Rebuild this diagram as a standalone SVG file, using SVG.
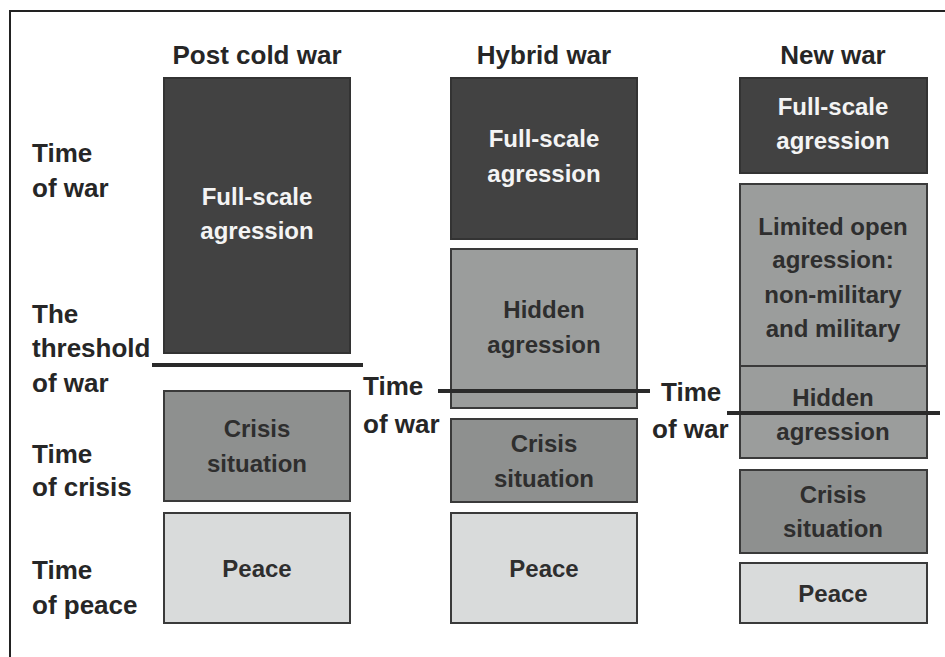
<svg xmlns="http://www.w3.org/2000/svg" width="945" height="657" viewBox="0 0 945 657">
<style>
text{font-family:"Liberation Sans",Arial,sans-serif;font-weight:bold}
.t{font-size:26px;fill:#262626;text-anchor:middle}
.l{font-size:26px;fill:#262626}
.b{font-size:24px;text-anchor:middle}
.w{fill:#f4f4f4}
.k{fill:#2e2e2e}
.dark{fill:#424242;stroke:#333;stroke-width:2}
.mid{fill:#9b9d9c;stroke:#3a3a3a;stroke-width:2}
.cr{fill:#8e908f;stroke:#3a3a3a;stroke-width:2}
.pc{fill:#d9dbdb;stroke:#3a3a3a;stroke-width:2}
.thr{stroke:#2a2a2a;stroke-width:4;fill:none}
</style>
<rect width="945" height="657" fill="#fff"/>
<rect x="10" y="11" width="945" height="660" fill="none" stroke="#222" stroke-width="2"/>
<g id="titles">
<text class="t" x="257" y="64">Post cold war</text>
<text class="t" x="544" y="64">Hybrid war</text>
<text class="t" x="833" y="64">New war</text>
</g>
<g id="row-labels">
<text class="l" x="32" y="162">Time</text>
<text class="l" x="32" y="197">of war</text>
<text class="l" x="32" y="323">The</text>
<text class="l" x="32" y="357">threshold</text>
<text class="l" x="32" y="392">of war</text>
<text class="l" x="32" y="463">Time</text>
<text class="l" x="32" y="496">of crisis</text>
<text class="l" x="32" y="579">Time</text>
<text class="l" x="32" y="614">of peace</text>
</g>
<g id="col1">
<g id="c1-full"><rect class="dark" x="164" y="78" width="186" height="275"/>
<text class="b w" x="257" y="205">Full-scale</text><text class="b w" x="257" y="239">agression</text></g>
<g id="c1-crisis"><rect class="cr" x="164" y="391" width="186" height="110"/>
<text class="b k" x="257" y="437">Crisis</text><text class="b k" x="257" y="472">situation</text></g>
<g id="c1-peace"><rect class="pc" x="164" y="513" width="186" height="110"/>
<text class="b k" x="257" y="577">Peace</text></g>
</g>
<g id="col2">
<g id="c2-full"><rect class="dark" x="451" y="78" width="186" height="161"/>
<text class="b w" x="544" y="147">Full-scale</text><text class="b w" x="544" y="182">agression</text></g>
<g id="c2-hidden"><rect class="mid" x="451" y="249" width="186" height="159"/>
<text class="b k" x="544" y="318">Hidden</text><text class="b k" x="544" y="353">agression</text></g>
<g id="c2-crisis"><rect class="cr" x="451" y="419" width="186" height="83"/>
<text class="b k" x="544" y="452">Crisis</text><text class="b k" x="544" y="487">situation</text></g>
<g id="c2-peace"><rect class="pc" x="451" y="513" width="186" height="110"/>
<text class="b k" x="544" y="577">Peace</text></g>
</g>
<g id="col3">
<g id="c3-full"><rect class="dark" x="740" y="78" width="187" height="95"/>
<text class="b w" x="833" y="115">Full-scale</text><text class="b w" x="833" y="149">agression</text></g>
<g id="c3-limited"><rect class="mid" x="740" y="184" width="187" height="182"/>
<text class="b k" x="833" y="235">Limited open</text><text class="b k" x="833" y="268">agression:</text>
<text class="b k" x="833" y="303">non-military</text><text class="b k" x="833" y="337">and military</text></g>
<g id="c3-hidden"><rect class="mid" x="740" y="366" width="187" height="92"/>
<text class="b k" x="833" y="406">Hidden</text><text class="b k" x="833" y="440">agression</text></g>
<g id="c3-crisis"><rect class="cr" x="740" y="470" width="187" height="83"/>
<text class="b k" x="833" y="503">Crisis</text><text class="b k" x="833" y="537">situation</text></g>
<g id="c3-peace"><rect class="pc" x="740" y="563" width="187" height="60"/>
<text class="b k" x="833" y="602">Peace</text></g>
</g>
<g id="connectors">
<line class="thr" x1="152" y1="365" x2="363" y2="365"/>
<line class="thr" x1="438" y1="391" x2="650" y2="391"/>
<line class="thr" x1="727" y1="413" x2="940" y2="413"/>
</g>
<g id="time-of-war-labels">
<text class="l" x="363" y="395">Time</text>
<text class="l" x="363" y="433">of war</text>
<text class="l" x="661" y="401">Time</text>
<text class="l" x="652" y="438">of war</text>
</g>
</svg>
